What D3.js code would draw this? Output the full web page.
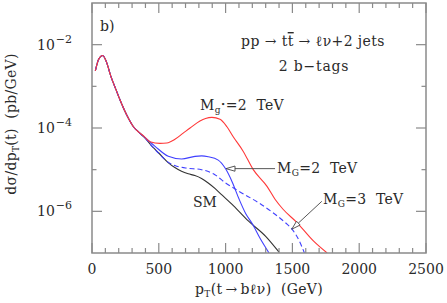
<!DOCTYPE html>
<html>
<head>
<meta charset="utf-8">
<script src="https://cdn.jsdelivr.net/npm/d3@7"></script>
<style>
  html, body { margin: 0; padding: 0; background: #fff; }
  svg text { font-family: "DejaVu Serif", serif; fill: #2a2a2a; white-space: pre; }
</style>
</head>
<body>
<svg id="chart" width="447" height="303"></svg>
<script>
// ---------- data (pT in GeV, dσ/dpT in pb/GeV) ----------
const xTicksMajor = [0, 500, 1000, 1500, 2000, 2500];
const yTicksMajor = [1e-2, 1e-4, 1e-6];
const yTickLabels = ["−2", "−4", "−6"];

const commonPt  = [25, 50, 80, 110, 140, 170, 210, 260, 310, 350];
const commonLog = [-2.63, -2.35, -2.26, -2.43, -2.75, -3.00, -3.33, -3.69, -3.97, -4.10];

const smPt  = [400, 450, 500, 570, 620, 670, 720, 770, 820, 870, 920, 970, 1060, 1170, 1300, 1400];
const smLog = [-4.25, -4.44, -4.60, -4.83, -4.95, -5.04, -5.10, -5.14, -5.21, -5.32, -5.45, -5.60, -5.87, -6.23, -6.60, -6.98];

const g2Pt  = [400, 472, 571, 671, 771, 821, 870, 945, 1000, 1050, 1100, 1150, 1200, 1260, 1325];
const g2Log = [-4.24, -4.44, -4.68, -4.745, -4.68, -4.67, -4.69, -4.77, -4.98, -5.30, -5.70, -6.05, -6.30, -6.66, -7.0];

const g3Pt  = [400, 450, 500, 570, 620, 700, 820, 920, 1000, 1050, 1100, 1250, 1370, 1450, 1500, 1550, 1590];
const g3Log = [-4.25, -4.44, -4.61, -4.82, -4.90, -4.96, -5.00, -5.12, -5.32, -5.42, -5.52, -5.80, -6.07, -6.28, -6.44, -6.70, -7.0];

const gsPt  = [390, 434, 509, 560, 621, 680, 734, 808, 850, 898, 958, 1010, 1057, 1130, 1207, 1310, 1370, 1430, 1534, 1657, 1760];
const gsLog = [-4.20, -4.33, -4.37, -4.36, -4.27, -4.13, -4.00, -3.83, -3.77, -3.745, -3.79, -3.97, -4.21, -4.55, -5.00, -5.40, -5.71, -5.95, -6.27, -6.71, -7.0];

// ---------- layout ----------
const L = 92, R = 426, T = 3, B = 253;
const svg = d3.select("#chart");
const x = d3.scaleLinear().domain([0, 2500]).range([L, R]);
const y = d3.scaleLog().domain([1e-7, 1e-1]).range([B, T]);

const frameColor = "#8a8a8a";

svg.append("clipPath").attr("id", "clip")
  .append("rect").attr("x", L).attr("y", T).attr("width", R - L).attr("height", B - T);

function series(pt, lg) {
  const pts = commonPt.map((p, i) => [p, Math.pow(10, commonLog[i])]);
  pt.forEach((p, i) => pts.push([p, Math.pow(10, lg[i])]));
  return pts;
}
const line = d3.line().x(d => x(d[0])).y(d => y(d[1])).curve(d3.curveMonotoneX);

const curves = svg.append("g").attr("clip-path", "url(#clip)");
curves.append("path").datum(series(smPt, smLog)).attr("d", line)
  .attr("fill", "none").attr("stroke", "#333").attr("stroke-width", 1.1);
curves.append("path").datum(series(g3Pt, g3Log)).attr("d", line)
  .attr("fill", "none").attr("stroke", "#4040ff").attr("stroke-width", 1.1).attr("stroke-dasharray", "5,3");
curves.append("path").datum(series(g2Pt, g2Log)).attr("d", line)
  .attr("fill", "none").attr("stroke", "#4040ff").attr("stroke-width", 1.1);
curves.append("path").datum(series(gsPt, gsLog)).attr("d", line)
  .attr("fill", "none").attr("stroke", "#ff3838").attr("stroke-width", 1.1);

// ---------- frame & ticks ----------
svg.append("rect").attr("x", L).attr("y", T).attr("width", R - L).attr("height", B - T)
  .attr("fill", "none").attr("stroke", frameColor).attr("stroke-width", 1.5);

const xMinor = d3.range(0, 2501, 100);
const tk = svg.append("g").attr("stroke", frameColor).attr("stroke-width", 1.2);
xMinor.forEach(v => {
  const len = (v % 500 === 0) ? 10 : 5;
  tk.append("line").attr("x1", x(v)).attr("x2", x(v)).attr("y1", B).attr("y2", B - len);
  tk.append("line").attr("x1", x(v)).attr("x2", x(v)).attr("y1", T).attr("y2", T + len);
});
const yAll = [1e-6, 1e-5, 1e-4, 1e-3, 1e-2];
yAll.forEach(v => {
  const major = yTicksMajor.some(m => Math.abs(Math.log10(m) - Math.log10(v)) < 1e-6);
  const len = major ? 10 : 4.5;
  tk.append("line").attr("x1", L).attr("x2", L + len).attr("y1", y(v)).attr("y2", y(v));
  tk.append("line").attr("x1", R).attr("x2", R - len).attr("y1", y(v)).attr("y2", y(v));
});

// x tick labels
svg.append("g").selectAll("text").data(xTicksMajor).join("text")
  .attr("x", d => x(d)).attr("y", 274).attr("text-anchor", "middle")
  .attr("font-size", 14).text(d => d);

// y tick labels
yTicksMajor.forEach((v, i) => {
  const t = svg.append("text").attr("x", 37).attr("y", y(v) + 5).attr("font-size", 14);
  t.append("tspan").text("10");
  t.append("tspan").attr("dy", -7).attr("dx", 1).attr("font-size", 11).text(yTickLabels[i]);
});

// axis titles
const xt = svg.append("text").attr("x", 259).attr("y", 294).attr("text-anchor", "middle")
  .attr("font-size", 14).attr("letter-spacing", 0.3);
xt.append("tspan").text("p");
xt.append("tspan").attr("dy", 3).attr("font-size", 9).text("T");
xt.append("tspan").attr("dy", -3).text("(t\u2009→\u2009bℓν)  (GeV)");

const yt = svg.append("text").attr("transform", "translate(16,124) rotate(-90)")
  .attr("text-anchor", "middle").attr("font-size", 14).attr("letter-spacing", 0.3);
yt.append("tspan").text("dσ/dp");
yt.append("tspan").attr("dy", 3).attr("font-size", 9).text("T");
yt.append("tspan").attr("dy", -3).text("(t)  (pb/GeV)");

// ---------- annotations ----------
svg.append("text").attr("x", 100).attr("y", 31).attr("font-size", 14).text("b)");

const t1 = svg.append("text").attr("x", 313).attr("y", 46).attr("text-anchor", "middle")
  .attr("font-size", 14).attr("letter-spacing", 0.4);
t1.append("tspan").text("pp → t");
t1.append("tspan").style("text-decoration", "overline").text("t");
t1.append("tspan").text(" → ℓν+2 jets");

svg.append("text").attr("x", 314).attr("y", 71).attr("text-anchor", "middle").attr("font-size", 14)
  .attr("letter-spacing", 0.8).text("2 b−tags");

function massLabel(xp, yp, sub, sup, rest) {
  const t = svg.append("text").attr("x", xp).attr("y", yp).attr("font-size", 14).attr("letter-spacing", 0.3);
  t.append("tspan").text("M");
  t.append("tspan").attr("dy", 3).attr("font-size", 9).text(sub);
  if (sup) t.append("tspan").attr("dy", -6).attr("font-size", 8).text(sup);
  t.append("tspan").attr("dy", sup ? 3 : -3).text(rest);
  return t;
}
massLabel(200, 110, "g", "•", "=2  TeV");
massLabel(277, 173, "G", null, "=2  TeV");
massLabel(323, 204, "G", null, "=3  TeV");

svg.append("text").attr("x", 193).attr("y", 207).attr("font-size", 14).text("SM");

// arrows (open triangle heads)
function arrow(x0, y0, x1, y1) {
  const g = svg.append("g").attr("stroke", "#444").attr("stroke-width", 0.9).attr("fill", "#fff");
  const ang = Math.atan2(y1 - y0, x1 - x0);
  const len = 9, hw = 2.6;
  const bx = x1 - len * Math.cos(ang), by = y1 - len * Math.sin(ang);
  g.append("line").attr("x1", x0).attr("y1", y0).attr("x2", bx).attr("y2", by);
  const px = -Math.sin(ang) * hw, py = Math.cos(ang) * hw;
  g.append("path").attr("d", `M${x1},${y1}L${bx + px},${by + py}L${bx - px},${by - py}Z`);
}
arrow(x(1370), y(Math.pow(10, -4.975)), x(1003), y(Math.pow(10, -4.975)));
arrow(x(1720), y(Math.pow(10, -5.76)), x(1495), y(Math.pow(10, -6.43)));
</script>
</body>
</html>
